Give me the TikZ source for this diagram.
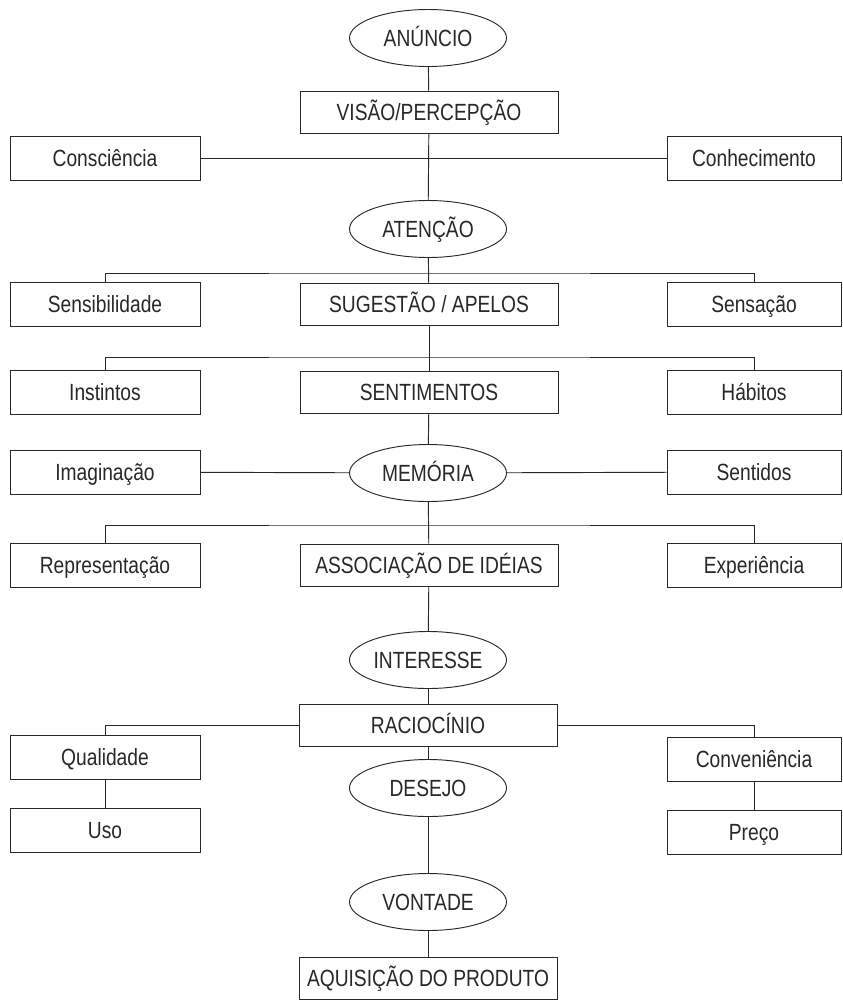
\documentclass[tikz,border=0pt]{standalone}
\usepackage{fontspec}
\setmainfont{Liberation Sans}[FakeStretch=0.82]
\usepackage{tikz}
\usetikzlibrary{shapes.geometric}
\definecolor{inkgray}{RGB}{40,40,40}

\begin{document}
\begin{tikzpicture}[x=0.03cm,y=-0.03cm, line width=0.8pt, inkgray,
  box/.style={draw,rectangle,minimum width=7.74cm,minimum height=1.26cm,inner sep=0pt,text height=14.3pt,text depth=0pt,font=\fontsize{20}{22}\selectfont},
  sidebox/.style={box,minimum width=5.7cm,minimum height=1.32cm},
  rsidebox/.style={sidebox,minimum width=5.22cm},
  oval/.style={draw,ellipse,minimum width=4.71cm,minimum height=1.71cm,inner sep=0pt,text height=14.3pt,text depth=0pt,font=\fontsize{20}{22}\selectfont}]
\useasboundingbox[fill=white] (0,0) rectangle (843,1000);
% central column
\node[oval] (anun) at (428,38) {ANÚNCIO};
\node[box] (visao) at (429,112) {VISÃO/PERCEPÇÃO};
\node[oval] (aten) at (428,229) {ATENÇÃO};
\node[box] (suges) at (429,304) {SUGESTÃO / APELOS};
\node[box] (sentim) at (429,392) {SENTIMENTOS};
\node[oval] (memor) at (428,473) {MEMÓRIA};
\node[box] (assoc) at (429,565) {ASSOCIAÇÃO DE IDÉIAS};
\node[oval] (inter) at (428,660) {INTERESSE};
\node[box] (racio) at (428,725) {RACIOCÍNIO};
\node[oval] (desejo) at (428,788) {DESEJO};
\node[oval] (vont) at (428,902) {VONTADE};
\node[box] (aquis) at (428,978) {AQUISIÇÃO DO PRODUTO};
% left side
\node[sidebox] (consc) at (105,158) {Consciência};
\node[sidebox] (sensib) at (105,304) {Sensibilidade};
\node[sidebox] (instin) at (105,392) {Instintos};
\node[sidebox] (imag) at (105,472) {Imaginação};
\node[sidebox] (repres) at (105,565) {Representação};
\node[sidebox] (qualid) at (105,757) {Qualidade};
\node[sidebox] (uso) at (105,830) {Uso};
% right side
\node[rsidebox] (conhec) at (754,158) {Conhecimento};
\node[rsidebox] (sensac) at (754,304) {Sensação};
\node[rsidebox] (habit) at (754,392) {Hábitos};
\node[rsidebox] (sentid) at (754,472) {Sentidos};
\node[rsidebox] (exper) at (754,565) {Experiência};
\node[rsidebox] (conven) at (754,759) {Conveniência};
\node[rsidebox] (preco) at (754,832) {Preço};
% bars
\coordinate (bara) at (429,273);
\coordinate (barb) at (429,357);
\coordinate (barc) at (429,525);
% connectors
\draw (anun) -- (visao);
\draw (visao) -- (aten);
\draw (consc) -- (conhec);
\draw (aten) -- (suges);
\draw (sensib.north) |- (bara) -| (sensac.north);
\draw (suges) -- (sentim);
\draw (instin.north) |- (barb) -| (habit.north);
\draw (sentim) -- (memor);
\draw (imag) -- (memor);
\draw (memor) -- (sentid);
\draw (memor) -- (assoc);
\draw (repres.north) |- (barc) -| (exper.north);
\draw (assoc) -- (inter);
\draw (inter) -- (racio);
\draw (racio) -- (desejo);
\draw (desejo) -- (vont);
\draw (vont) -- (aquis);
\draw (qualid.north) |- (racio.west);
\draw (conven.north) |- (racio.east);
\draw (qualid) -- (uso);
\draw (conven) -- (preco);
\end{tikzpicture}
\end{document}
